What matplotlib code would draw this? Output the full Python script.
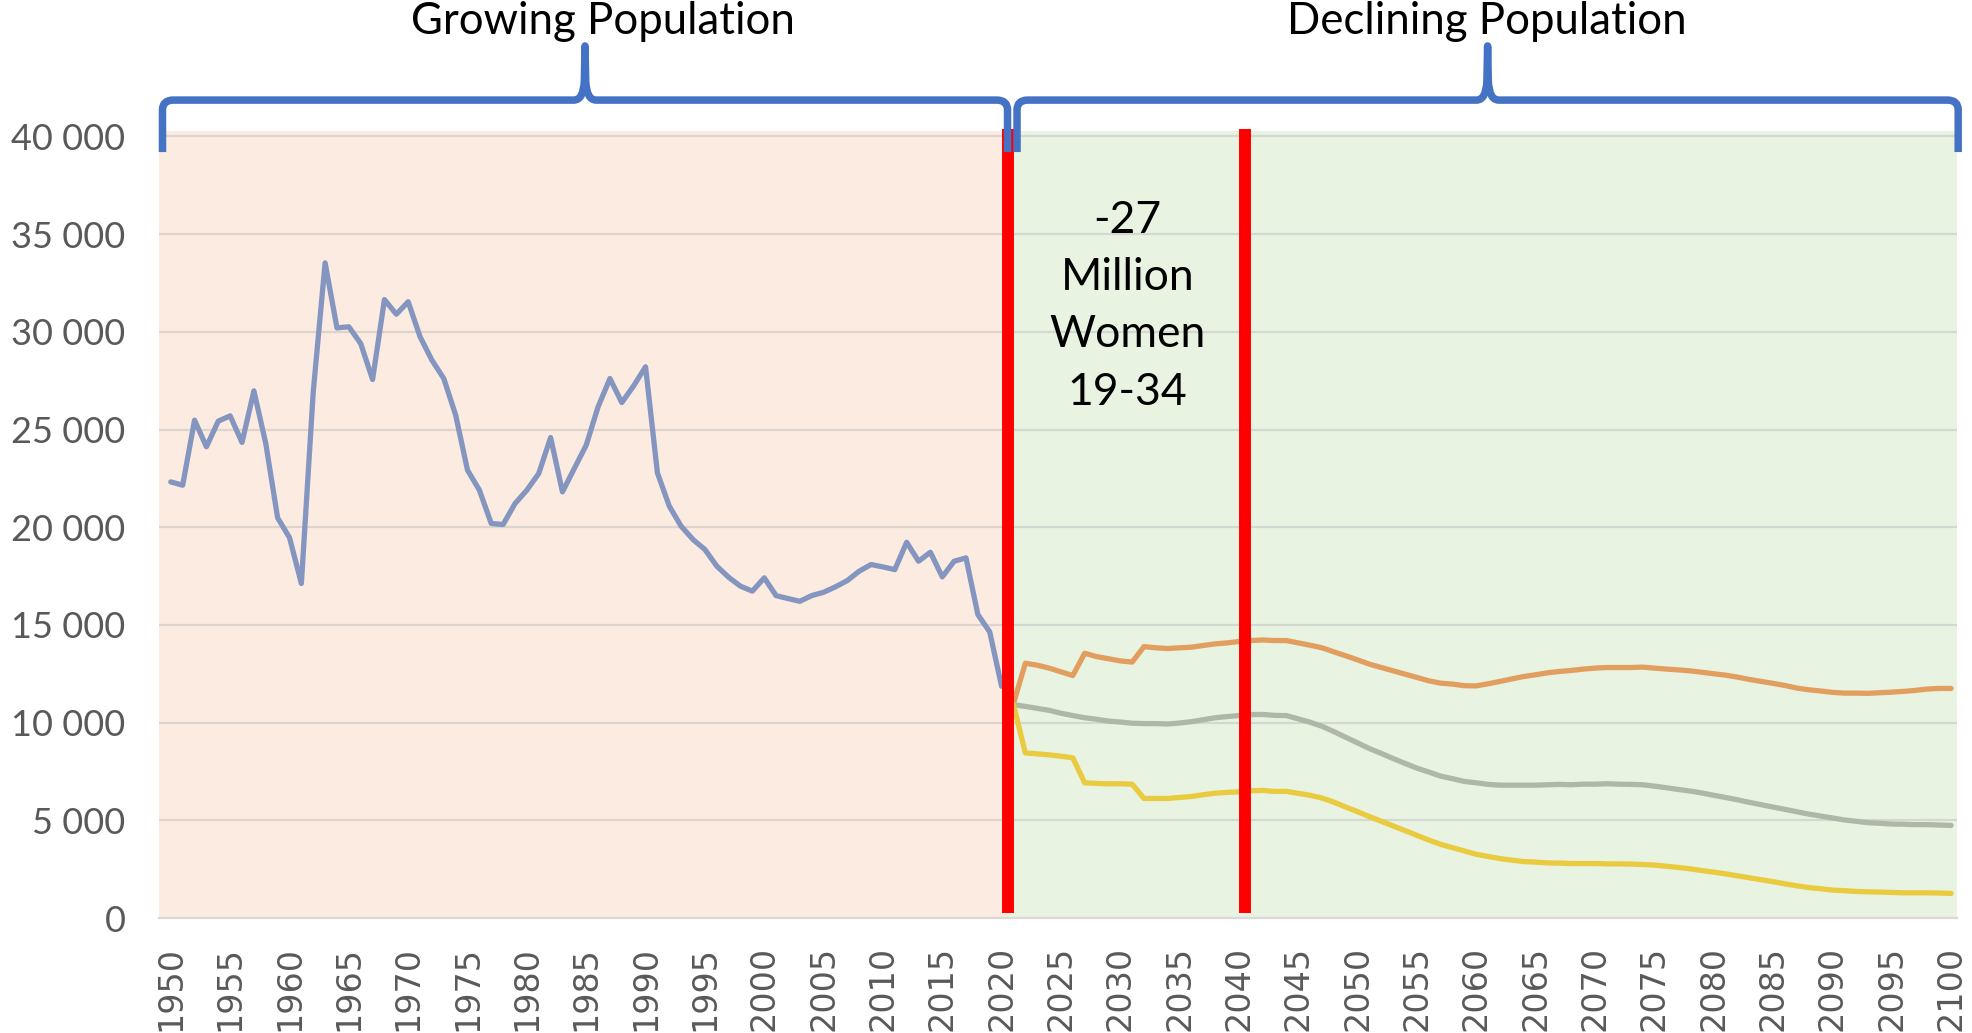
import numpy as np
import matplotlib
matplotlib.use("Agg")
import matplotlib.pyplot as plt
from matplotlib.path import Path
from matplotlib.patches import PathPatch
from matplotlib.ticker import FuncFormatter

# Births (thousands) - historical, 1950-2020
years_hist = list(range(1950, 2021))
births_hist = [
    22320, 22150, 25480, 24120, 25430, 25700, 24340, 26980, 24290, 20480,
    19470, 17120, 26930, 33530, 30200, 30260, 29400, 27560, 31650, 30900,
    31540, 29750, 28550, 27610, 25740, 22920, 21900, 20190, 20140, 21210,
    21900, 22750, 24590, 21810, 23010, 24200, 26160, 27610, 26380, 27240,
    28210, 22780, 21080, 20050, 19370, 18860, 18010, 17440, 16980, 16730,
    17410, 16500, 16350, 16210, 16500, 16670, 16950, 17270, 17750, 18090,
    17970, 17830, 19230, 18260, 18720, 17460, 18260, 18430, 15530, 14640,
    11860,
]

# Projections 2021-2100
years_proj = list(range(2021, 2101))
high_proj = [
    10970, 13040, 12940, 12790, 12600, 12410, 13550, 13380, 13270, 13160,
    13100, 13890, 13830, 13790, 13830, 13860, 13950, 14030, 14080, 14150,
    14200, 14230, 14200, 14200, 14080, 13960, 13830, 13620, 13420, 13210,
    12990, 12820, 12650, 12480, 12310, 12140, 12020, 11970, 11890, 11880,
    11990, 12110, 12240, 12360, 12450, 12550, 12620, 12670, 12740, 12790,
    12820, 12820, 12820, 12840, 12790, 12740, 12700, 12650, 12580, 12500,
    12430, 12330, 12210, 12110, 12010, 11900, 11770, 11680, 11620, 11550,
    11510, 11510, 11500, 11530, 11560, 11600, 11650, 11720, 11750, 11750,
]
medium_proj = [
    10920, 10830, 10730, 10630, 10480, 10360, 10250, 10170, 10080, 10030,
    9970, 9950, 9950, 9930, 9980, 10050, 10150, 10250, 10310, 10360,
    10410, 10420, 10370, 10360, 10190, 10020, 9810, 9540, 9250, 8960,
    8670, 8420, 8160, 7910, 7670, 7470, 7260, 7130, 6990, 6920,
    6840, 6800, 6800, 6800, 6800, 6820, 6840, 6820, 6850, 6850,
    6870, 6850, 6840, 6820, 6750, 6670, 6580, 6500, 6400, 6280,
    6170, 6050, 5920, 5800, 5680, 5560, 5440, 5320, 5220, 5120,
    5020, 4950, 4880, 4850, 4810, 4800, 4780, 4780, 4760, 4740,
]
low_proj = [
    10920, 8450, 8400, 8350, 8280, 8200, 6920, 6890, 6870, 6870,
    6850, 6120, 6120, 6120, 6170, 6220, 6310, 6390, 6430, 6460,
    6510, 6530, 6480, 6480, 6380, 6280, 6140, 5930, 5680, 5440,
    5190, 4950, 4710, 4470, 4230, 3990, 3770, 3600, 3430, 3260,
    3150, 3040, 2960, 2890, 2860, 2820, 2810, 2790, 2790, 2790,
    2770, 2770, 2760, 2740, 2710, 2650, 2590, 2520, 2430, 2350,
    2260, 2160, 2060, 1960, 1860, 1750, 1650, 1560, 1500, 1430,
    1400, 1360, 1340, 1330, 1310, 1290, 1290, 1290, 1280, 1260,
]

x_ticks = list(range(1950, 2101, 5))
y_ticks = list(range(0, 40001, 5000))
marker_years = [2020.5, 2040.5]
annotation_lines = ["-27", "Million", "Women", "19-34"]

fig = plt.figure(figsize=(19.72, 10.33), dpi=100)
ax = fig.add_axes([0.0806, 0.1113, 0.9118, 0.7623])
ax.set_xlim(1949.0, 2100.5)
ax.set_ylim(0, 40300)

# background periods
ax.axvspan(1949.0, 2020.5, color="#FCEBE0", zorder=0, lw=0)
ax.axvspan(2020.5, 2100.5, color="#E8F3E2", zorder=0, lw=0)

# grid
for y in y_ticks[1:]:
    ax.axhline(y, color="#BFBFBF", alpha=0.5, lw=1.6, zorder=1)

lw = 3.8
ax.plot(years_hist, births_hist, color="#8496C0", lw=lw, zorder=3,
        solid_capstyle="round", solid_joinstyle="round")
ax.plot(years_proj, high_proj, color="#E29E5F", lw=lw, zorder=3,
        solid_capstyle="round", solid_joinstyle="round")
ax.plot(years_proj, medium_proj, color="#AFB8A8", lw=lw, zorder=3,
        solid_capstyle="round", solid_joinstyle="round")
ax.plot(years_proj, low_proj, color="#EACA3E", lw=lw, zorder=3,
        solid_capstyle="round", solid_joinstyle="round")

# red markers
for xm in marker_years:
    ax.plot([xm, xm], [250, 40380], color="#FF0000", lw=8.6, zorder=4,
            solid_capstyle="butt", clip_on=False)

# axes styling
for s in ["top", "right", "left"]:
    ax.spines[s].set_visible(False)
ax.spines["bottom"].set_color("#D9D9D9")
ax.spines["bottom"].set_linewidth(1.6)
ax.spines["bottom"].set_zorder(2)

ax.set_xticks(x_ticks)
ax.set_xticklabels([str(x) for x in x_ticks], rotation=90,
                   fontfamily="DejaVu Sans", fontsize=24, color="#595959")
ax.set_yticks(y_ticks)
ax.yaxis.set_major_formatter(FuncFormatter(lambda v, p: f"{int(v):,}".replace(",", " ")))
for lab in ax.get_yticklabels():
    lab.set_fontfamily(["Lato", "DejaVu Sans"])
    lab.set_fontsize(26)
    lab.set_color("#595959")
ax.tick_params(axis="x", length=0, pad=20)
ax.tick_params(axis="y", length=0, pad=24)


def draw_brace(ax, x0, x1, y_end, y_bar, y_tip, color):
    xm = (x0 + x1) / 2
    rx, ry, tx = 0.9, 500, 0.95
    verts = [
        (x0, y_end), (x0, y_bar - ry),
        (x0, y_bar), (x0 + rx, y_bar),
        (xm - tx, y_bar),
        (xm - 0.12 * tx, y_bar), (xm - 0.06 * tx, y_bar + 2 * ry),
        (xm, y_tip),
        (xm + 0.06 * tx, y_bar + 2 * ry),
        (xm + 0.12 * tx, y_bar), (xm + tx, y_bar),
        (x1 - rx, y_bar),
        (x1, y_bar), (x1, y_bar - ry),
        (x1, y_end),
    ]
    codes = [
        Path.MOVETO, Path.LINETO,
        Path.CURVE3, Path.CURVE3,
        Path.LINETO,
        Path.CURVE3, Path.CURVE3,
        Path.LINETO,
        Path.LINETO,
        Path.CURVE3, Path.CURVE3,
        Path.LINETO,
        Path.CURVE3, Path.CURVE3,
        Path.LINETO,
    ]
    patch = PathPatch(Path(verts, codes), fill=False, edgecolor=color, lw=5.4,
                      joinstyle="round", capstyle="butt", clip_on=False,
                      transform=ax.transData, zorder=5)
    ax.add_patch(patch)


draw_brace(ax, 1949.3, 2020.5, 39200, 41860, 44630, "#4472C4")
draw_brace(ax, 2021.3, 2100.6, 39200, 41860, 44630, "#4472C4")

title_font = ["Lato", "DejaVu Sans"]
ax.text(1986.4, 45240, "Growing Population", ha="center", va="baseline",
        fontsize=31.5, fontfamily=title_font, color="black", clip_on=False)
ax.text(2060.9, 45240, "Declining Population", ha="center", va="baseline",
        fontsize=31.5, fontfamily=title_font, color="black", clip_on=False)

line_base = [35060, 32140, 29220, 26255]
for txt, yb in zip(annotation_lines, line_base):
    ax.text(2030.6, yb, txt, ha="center", va="baseline", fontsize=32,
            fontfamily=title_font, color="black", zorder=6)

fig.savefig("out.png", dpi=100)
